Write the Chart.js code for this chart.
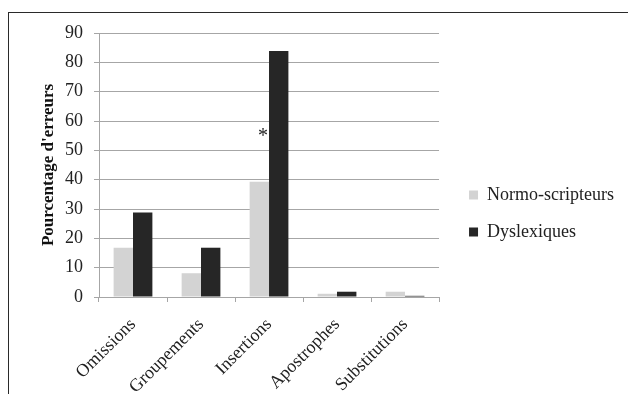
<!DOCTYPE html>
<html>
<head>
<meta charset="utf-8">
<script src="https://cdn.jsdelivr.net/npm/chart.js@4"></script>
<style>
  body { margin: 0; background: #fff; }
  #frame { position: absolute; left: 8px; top: 12px; width: 700px; height: 500px; border: 1.5px solid #2a2a2a; }
  #wrap { position: absolute; left: 0; top: 0; width: 628px; height: 394px; }
</style>
</head>
<body>
<div id="frame"></div>
<div id="wrap"><canvas id="erreurs"></canvas></div>
<script>
// categories and values
const categories = ["Omissions", "Groupements", "Insertions", "Apostrophes", "Substitutions"];
const normoScripteurs = [16.8, 8.1, 39.3, 1.1, 1.8];
const dyslexiques = [28.8, 16.8, 83.9, 1.8, 0.4];
const yTicks = [0, 10, 20, 30, 40, 50, 60, 70, 80, 90];
// significance marker: category index and height (in %)
const asteriskIndex = 2;
const asteriskValue = 56;

const serif = "'Liberation Serif', 'Times New Roman', serif";

const asteriskPlugin = {
  id: "asterisk",
  afterDatasetsDraw(chart) {
    const meta = chart.getDatasetMeta(1);
    const bar = meta.data[asteriskIndex];
    const y = chart.scales.y.getPixelForValue(asteriskValue);
    const ctx = chart.ctx;
    ctx.save();
    ctx.fillStyle = "#222";
    ctx.font = "20px " + serif;
    ctx.textAlign = "right";
    ctx.textBaseline = "middle";
    ctx.fillText("*", bar.x - bar.width / 2 - 1, y + 4);
    ctx.restore();
  }
};

const data = {
  labels: categories,
  datasets: [
    {
      label: "Normo-scripteurs",
      data: normoScripteurs,
      backgroundColor: "#d3d3d3",
      borderWidth: 0,
    },
    {
      label: "Dyslexiques",
      data: dyslexiques,
      backgroundColor: "#262626",
      borderWidth: 0,
    },
  ],
};

const config = {
  type: "bar",
  data: data,
  options: {
    responsive: true,
    maintainAspectRatio: false,
    animation: false,
    datasets: {
      bar: { barPercentage: 1, categoryPercentage: 0.57 }
    },
    layout: {
      padding: { left: 38, right: 4, top: 33, bottom: 0 }
    },
    scales: {
      x: {
        grid: { display: true, drawOnChartArea: false, drawTicks: true, tickLength: 5, color: "#a6a6a6", offset: true },
        border: { display: true, color: "#a6a6a6", width: 1 },
        ticks: {
          color: "#222",
          font: { family: serif, size: 18 },
          maxRotation: 45,
          minRotation: 45,
          padding: 12,
          autoSkip: false,
        },
        afterFit: (scale) => { scale.height = 97; },
      },
      y: {
        min: 0,
        max: 90,
        afterBuildTicks: (scale) => { scale.ticks = yTicks.map((v) => ({ value: v })); },
        grid: { color: "#a6a6a6", tickLength: 5, lineWidth: 1 },
        border: { display: true, color: "#a6a6a6", width: 1 },
        ticks: {
          color: "#222",
          font: { family: serif, size: 18 },
          padding: 11,
        },
        title: {
          display: true,
          text: "Pourcentage d'erreurs",
          color: "#111",
          font: { family: serif, size: 17, weight: "bold" },
          padding: { top: 0, bottom: 6 },
        },
        afterFit: (scale) => { scale.width = 61; },
      },
      // empty spacer between the plot and the legend
      gap: {
        position: "right",
        display: true,
        grid: { display: false },
        border: { display: false },
        ticks: { display: false },
        afterFit: (scale) => { scale.width = 11; },
      },
    },
    plugins: {
      legend: {
        position: "right",
        maxWidth: 180,
        labels: {
          color: "#222",
          font: { family: serif, size: 18 },
          boxWidth: 9,
          boxHeight: 9,
          padding: 19,
        },
      },
      tooltip: { enabled: false },
    },
  },
  plugins: [asteriskPlugin],
};

const erreursChart = new Chart(document.getElementById("erreurs").getContext("2d"), config);
</script>
</body>
</html>
